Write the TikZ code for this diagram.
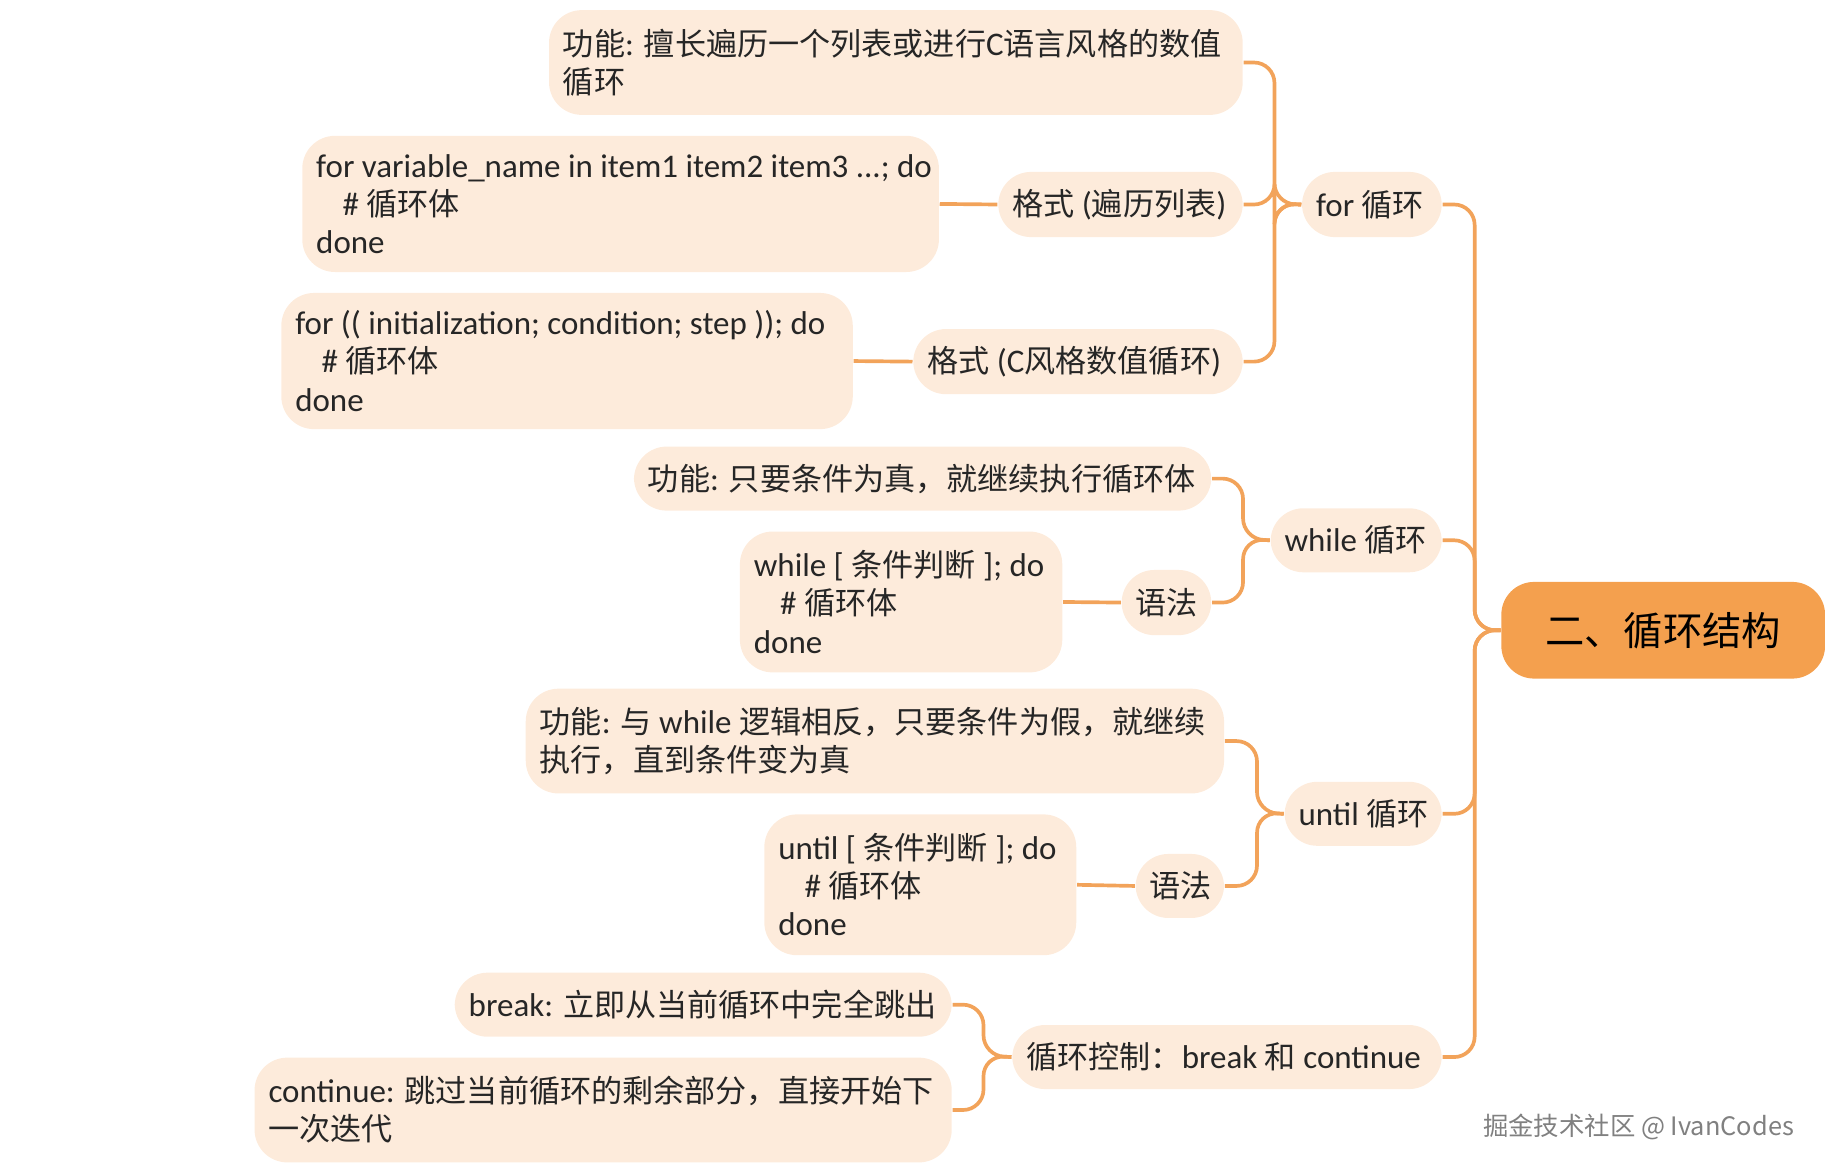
\documentclass[tikz,border=0pt]{standalone}
\usepackage{fontspec}
\setmainfont[Scale=1.06]{Carlito}
\newfontfamily\cjk{Noto Sans CJK SC}
\newcommand\zh[1]{{\cjk #1}}
\usetikzlibrary{calc}
\definecolor{ln}{HTML}{F2A35A}
\definecolor{bf}{HTML}{FDEBDB}
\definecolor{rt}{HTML}{F4A04E}
\tikzset{box/.style={fill=bf,rounded corners=8pt,anchor=north west,inner sep=0pt},
txt/.style={anchor=west,inner sep=0pt,align=left,font=\fontsize{7.6pt}{9.3pt}\selectfont,text=black!85},
con/.style={draw=ln,line width=0.9pt,rounded corners=5pt}}
\newcommand\bx[6]{%
\pgfmathsetlengthmacro\bw{(#4-#2)*0.01cm}%
\pgfmathsetlengthmacro\bh{(#5-#3)*0.01cm}%
\node[box,minimum width=\bw,minimum height=\bh] (#1-b) at (#2,#3) {};
\node[txt] (#1-t) at ($(#1-b.west)+(12,0)$) {#6};
\coordinate (#1-e) at (#1-b.east);
\coordinate (#1-w) at (#1-b.west);}
\begin{document}
\begin{tikzpicture}[x=0.01cm,y=-0.01cm]
\useasboundingbox (0,0) rectangle (1568,1006);
\node[fill=rt,rounded corners=8pt,minimum width=2.78cm,minimum height=0.83cm,font=\fontsize{9.6pt}{11pt}\selectfont\cjk,text=black] (root) at (1429,541.5) {二、循环结构};
\bx{for}{1118}{147}{1238}{203}{for \zh{循环}}
\bx{fa}{471}{8}{1067}{98}{\zh{功能}: \zh{擅长遍历一个列表或进行}C\zh{语言风格的数值}\\\zh{循环}}
\bx{fb}{857}{147}{1067}{203}{\zh{格式} (\zh{遍历列表})}
\bx{fbc}{259}{116}{806}{233}{for variable\_name in item1 item2 item3 ...; do\\\hspace*{0.8em}\# \zh{循环体}\\done}
\bx{fc}{784}{282}{1067}{338}{\zh{格式} (C\zh{风格数值循环})}
\bx{fcc}{241}{251}{732}{368}{for (( initialization; condition; step )); do\\\hspace*{0.8em}\# \zh{循环体}\\done}
\bx{wh}{1091}{436}{1238}{491}{while \zh{循环}}
\bx{wa}{544}{383}{1040}{438}{\zh{功能}: \zh{只要条件为真，就继续执行循环体}}
\bx{wb}{963}{489}{1040}{545}{\zh{语法}}
\bx{wbc}{635}{456}{912}{577}{while [ \zh{条件判断} ]; do\\\hspace*{0.8em}\# \zh{循环体}\\done}
\bx{un}{1103}{671}{1238}{726}{until \zh{循环}}
\bx{ua}{451}{591}{1051}{681}{\zh{功能}: \zh{与} while \zh{逻辑相反，只要条件为假，就继续}\\\zh{执行，直到条件变为真}}
\bx{ub}{975}{733}{1051}{788}{\zh{语法}}
\bx{ubc}{656}{699}{924}{820}{until [ \zh{条件判断} ]; do\\\hspace*{0.8em}\# \zh{循环体}\\done}
\bx{ct}{869}{880}{1238}{935}{\zh{循环控制：}break \zh{和} continue}
\bx{ca}{390}{835}{817}{890}{break: \zh{立即从当前循环中完全跳出}}
\bx{cb}{218}{908}{817}{998}{continue: \zh{跳过当前循环的剩余部分，直接开始下}\\\zh{一次迭代}}
\foreach \n in {for,wh,un,ct}{\draw[con] (\n-e) -| (1267,541.5) -- (root.west);}
\foreach \n in {fa,fb,fc}{\draw[con] (\n-e) -| (1095,175) -- (for-w);}
\foreach \n in {wa,wb}{\draw[con] (\n-e) -| (1068,463) -- (wh-w);}
\foreach \n in {ua,ub}{\draw[con] (\n-e) -| (1080,698) -- (un-w);}
\foreach \n in {ca,cb}{\draw[con] (\n-e) -| (845,907) -- (ct-w);}
\draw[con] (fbc-e) -- (fb-w);
\draw[con] (fcc-e) -- (fc-w);
\draw[con] (wbc-e) -- (wb-w);
\draw[con] (ubc-e) -- (ub-w);
\node[anchor=east,inner sep=0pt,font=\fontsize{6.2pt}{8pt}\selectfont\cjk,text=black!50] (wm) at (1542,968) {掘金技术社区 @ IvanCodes};
\end{tikzpicture}
\end{document}
